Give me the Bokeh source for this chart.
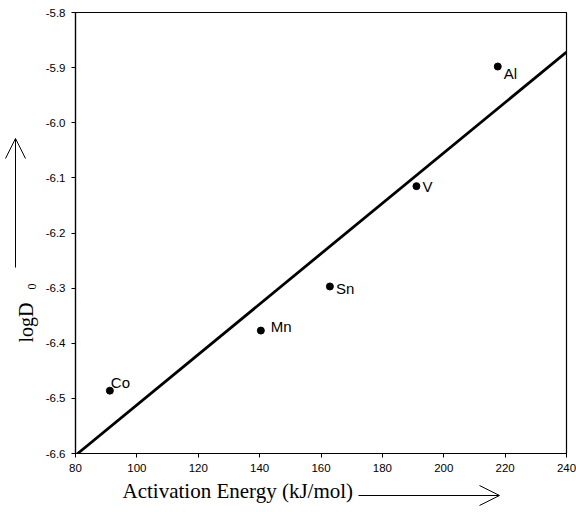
import numpy as np
from bokeh.plotting import figure
from bokeh.layouts import column
from bokeh.models import ColumnDataSource, Label, Arrow, OpenHead, FixedTicker
from bokeh.core.properties import value
from bokeh.embed import file_html
from bokeh.resources import INLINE

# data
elements = ["Co", "Mn", "Sn", "V", "Al"]
activation_energy = [91.2, 140.4, 162.9, 191.1, 217.6]
log_d0 = [-6.486, -6.377, -6.297, -6.115, -5.898]
x_ticks = [80, 100, 120, 140, 160, 180, 200, 220, 240]
y_ticks = [-6.6, -6.5, -6.4, -6.3, -6.2, -6.1, -6.0, -5.9, -5.8]

# label offsets (screen px) - styling
label_dx = [1, 10, 6, 6, 6]
label_dy = [-8, -4, 2, 0, 7]

slope, intercept = np.polyfit(activation_energy, log_d0, 1)
fit_x = [80, 240]
fit_y = [slope * v + intercept for v in fit_x]

p = figure(width=576, height=512, x_range=(80, 240), y_range=(-6.6, -5.8),
           output_backend="svg", toolbar_location=None,
           min_border_left=75, min_border_right=10, min_border_top=12, min_border_bottom=59)
p.background_fill_color = "white"
p.border_fill_color = "white"
p.xgrid.visible = False
p.ygrid.visible = False
p.outline_line_color = "black"
p.outline_line_width = 1.2

for ax in (p.xaxis, p.yaxis):
    ax.axis_line_color = "black"
    ax.axis_line_width = 1.2
    ax.major_tick_line_color = "black"
    ax.major_tick_out = 4
    ax.major_tick_in = 0
    ax.minor_tick_line_color = None
    ax.major_label_text_font = "Liberation Sans"
    ax.major_label_text_font_size = "11.5px"
    ax.major_label_text_color = "black"
p.xaxis.ticker = FixedTicker(ticks=x_ticks)
p.yaxis.ticker = FixedTicker(ticks=y_ticks)
p.yaxis.major_label_overrides = {t: f"{t:.1f}" for t in y_ticks}
p.xaxis.major_label_standoff = 6
p.yaxis.major_label_standoff = 6

src = ColumnDataSource(dict(x=activation_energy, y=log_d0, name=elements,
                            dx=label_dx, dy=label_dy))
p.line(fit_x, fit_y, line_color="black", line_width=2.8)
p.scatter("x", "y", source=src, size=7, color="black")
p.text("x", "y", text="name", source=src, x_offset="dx", y_offset="dy",
       text_font=value("Liberation Sans"), text_font_size="15px",
       text_baseline="middle", text_align="left", text_color="black")

# transparent overlay (pixel coordinates) holding axis titles and arrows
ov = figure(width=576, height=512, x_range=(0, 576), y_range=(512, 0),
            output_backend="svg", toolbar_location=None, min_border=0,
            x_axis_type=None, y_axis_type=None,
            styles={"position": "absolute", "left": "0px", "top": "0px"})
ov.grid.visible = False
ov.outline_line_color = None
ov.background_fill_alpha = 0
ov.border_fill_alpha = 0
for fig in (p, ov):
    try:
        fig.frame_align = False
    except Exception:
        pass

ov.add_layout(Label(x=122, y=490, text="Activation Energy (kJ/mol)",
                    text_font="Liberation Serif", text_font_size="21px",
                    text_color="black", text_baseline="middle"))
ov.add_layout(Arrow(x_start=358, y_start=495, x_end=499, y_end=495, line_width=1,
                    end=OpenHead(size=20, line_width=1), line_color="black"))
ov.add_layout(Label(x=25, y=342, text="logD", text_font="Liberation Serif",
                    angle=np.pi / 2, text_font_size="20px", text_color="black",
                    text_baseline="alphabetic"))
ov.add_layout(Label(x=31, y=289, text="0", text_font="Liberation Serif",
                    angle=np.pi / 2, text_font_size="12px", text_color="black",
                    text_baseline="alphabetic"))
ov.add_layout(Arrow(x_start=15, y_start=267, x_end=15, y_end=138, line_width=1,
                    end=OpenHead(size=20, line_width=1), line_color="black"))

open("out.html", "w").write(file_html(column(p, ov), INLINE))
